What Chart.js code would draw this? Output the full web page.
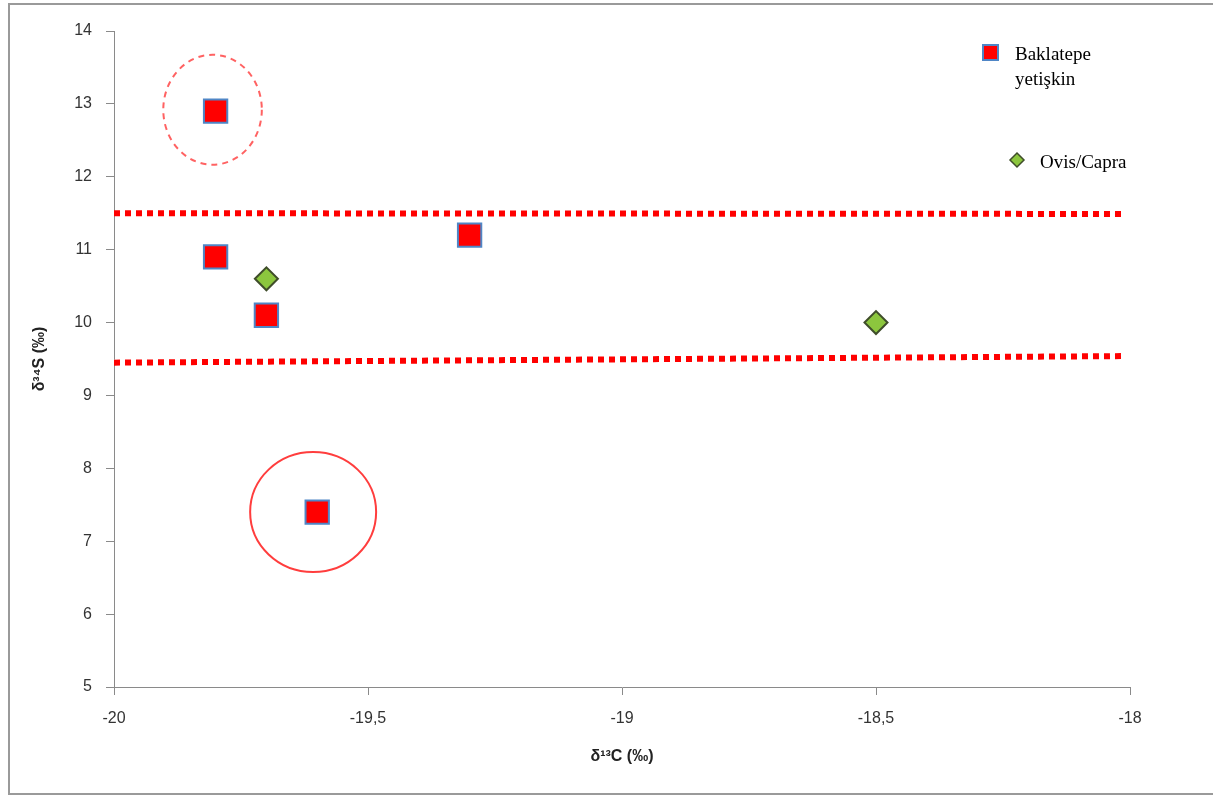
<!DOCTYPE html>
<html>
<head>
<meta charset="utf-8">
<script src="https://cdn.jsdelivr.net/npm/chart.js@4.4.0/dist/chart.umd.min.js"></script>
<style>
  html, body { margin: 0; padding: 0; background: #fff; }
  #isoChart { display: block; }
</style>
</head>
<body>
<canvas id="isoChart" width="1213" height="798"></canvas>
<script>
// data
const adultC = [-19.8, -19.8, -19.7, -19.3, -19.6];
const adultS = [12.9, 10.9, 10.1, 11.2, 7.4];
const ovisC = [-19.7, -18.5];
const ovisS = [10.6, 10.0];
const upperLineC = [-20, -18.01];
const upperLineS = [11.5, 11.49];
const lowerLineC = [-20, -18.01];
const lowerLineS = [9.45, 9.54];
const xTicks = [-20, -19.5, -19, -18.5, -18];
const yTicks = [5, 6, 7, 8, 9, 10, 11, 12, 13, 14];
// ellipses: centre C, centre S, radius C, radius S
const ellipseC = [-19.806, -19.608];
const ellipseS = [12.92, 7.40];
const ellipseRC = [0.097, 0.124];
const ellipseRS = [0.754, 0.823];
const ellipseDashed = [true, false];

const toPts = (xs, ys) => xs.map((x, i) => ({ x: x, y: ys[i] }));
const fmt = v => String(v).replace('.', ',');

const tickFont = { family: 'Liberation Sans', size: 16 };
const titleFont = { family: 'Liberation Sans', size: 16, weight: 'bold' };

// frame, ellipses and the hand placed legend
const extras = {
    id: 'extras',
    beforeDraw(chart) {
        const c = chart.ctx;
        c.save();
        c.fillStyle = '#fff';
        c.fillRect(0, 0, chart.width, chart.height);
        c.strokeStyle = '#9a9a9a';
        c.lineWidth = 2;
        c.strokeRect(9, 4, chart.width + 10, chart.height - 8);
        c.restore();
    },
    afterDatasetsDraw(chart) {
        const c = chart.ctx;
        const xs = chart.scales.x, ys = chart.scales.y;
        c.save();
        ellipseC.forEach((cx, i) => {
            const px = xs.getPixelForValue(cx);
            const py = ys.getPixelForValue(ellipseS[i]);
            const rx = Math.abs(xs.getPixelForValue(cx + ellipseRC[i]) - px);
            const ry = Math.abs(ys.getPixelForValue(ellipseS[i] + ellipseRS[i]) - py);
            c.beginPath();
            c.ellipse(px, py, rx, ry, 0, 0, Math.PI * 2);
            c.lineWidth = 2;
            c.strokeStyle = ellipseDashed[i] ? 'rgba(255,70,70,0.85)' : 'rgba(255,40,40,0.9)';
            c.setLineDash(ellipseDashed[i] ? [6, 5] : []);
            c.stroke();
        });
        c.setLineDash([]);

        // legend
        c.fillStyle = '#ff0000';
        c.fillRect(983, 45, 15, 15);
        c.strokeStyle = '#4f86c6';
        c.lineWidth = 2;
        c.strokeRect(983, 45, 15, 15);
        c.beginPath();
        c.moveTo(1017, 153); c.lineTo(1024, 160); c.lineTo(1017, 167); c.lineTo(1010, 160); c.closePath();
        c.fillStyle = '#8cc63e';
        c.fill();
        c.strokeStyle = '#3f4d2a';
        c.lineWidth = 1.5;
        c.stroke();
        c.fillStyle = '#000';
        c.font = '19px "Liberation Serif"';
        c.textBaseline = 'alphabetic';
        c.fillText('Baklatepe', 1015, 60);
        c.fillText('yetişkin', 1015, 85);
        c.fillText('Ovis/Capra', 1040, 168);
        c.restore();
    }
};

const ctx = document.getElementById('isoChart').getContext('2d');

const isoChart = new Chart(ctx, {
    type: 'scatter',
    data: {
        datasets: [
            {
                label: 'upper',
                data: toPts(upperLineC, upperLineS),
                showLine: true,
                borderColor: '#ff0000',
                borderWidth: 6,
                borderDash: [6, 5],
                pointRadius: 0
            },
            {
                label: 'lower',
                data: toPts(lowerLineC, lowerLineS),
                showLine: true,
                borderColor: '#ff0000',
                borderWidth: 6,
                borderDash: [6, 5],
                pointRadius: 0
            },
            {
                label: 'Baklatepe yetişkin',
                data: toPts(adultC, adultS),
                pointStyle: 'rect',
                pointRadius: 16.5,
                backgroundColor: '#ff0000',
                borderColor: '#4f86c6',
                borderWidth: 2
            },
            {
                label: 'Ovis/Capra',
                data: toPts(ovisC, ovisS),
                pointStyle: 'rectRot',
                pointRadius: 11.5,
                backgroundColor: '#8cc63e',
                borderColor: '#3f4d2a',
                borderWidth: 2
            }
        ]
    },
    options: {
        responsive: false,
        animation: false,
        devicePixelRatio: 1,
        layout: { padding: { left: 26, top: 31, right: 83, bottom: 28 } },
        scales: {
            x: {
                type: 'linear',
                min: -20,
                max: -18,
                afterBuildTicks: s => { s.ticks = xTicks.map(v => ({ value: v })); },
                afterFit: s => { s.height = 83; },
                ticks: { color: '#333', font: tickFont, padding: 14, callback: v => fmt(v) },
                grid: { drawOnChartArea: false, tickLength: 8, color: '#8a8a8a' },
                border: { color: '#8a8a8a' },
                title: { display: true, text: 'δ¹³C (‰)', color: '#222', font: titleFont, padding: { top: 14 } }
            },
            y: {
                type: 'linear',
                min: 5,
                max: 14,
                afterBuildTicks: s => { s.ticks = yTicks.map(v => ({ value: v })); },
                afterFit: s => { s.width = 88; },
                ticks: { color: '#333', font: tickFont, padding: 14 },
                grid: { drawOnChartArea: false, tickLength: 8, color: '#8a8a8a' },
                border: { color: '#8a8a8a' },
                title: { display: true, text: 'δ³⁴S (‰)', color: '#222', font: titleFont, padding: { bottom: 14 } }
            }
        },
        plugins: {
            legend: { display: false },
            tooltip: { enabled: false }
        }
    },
    plugins: [extras]
});
</script>
</body>
</html>
